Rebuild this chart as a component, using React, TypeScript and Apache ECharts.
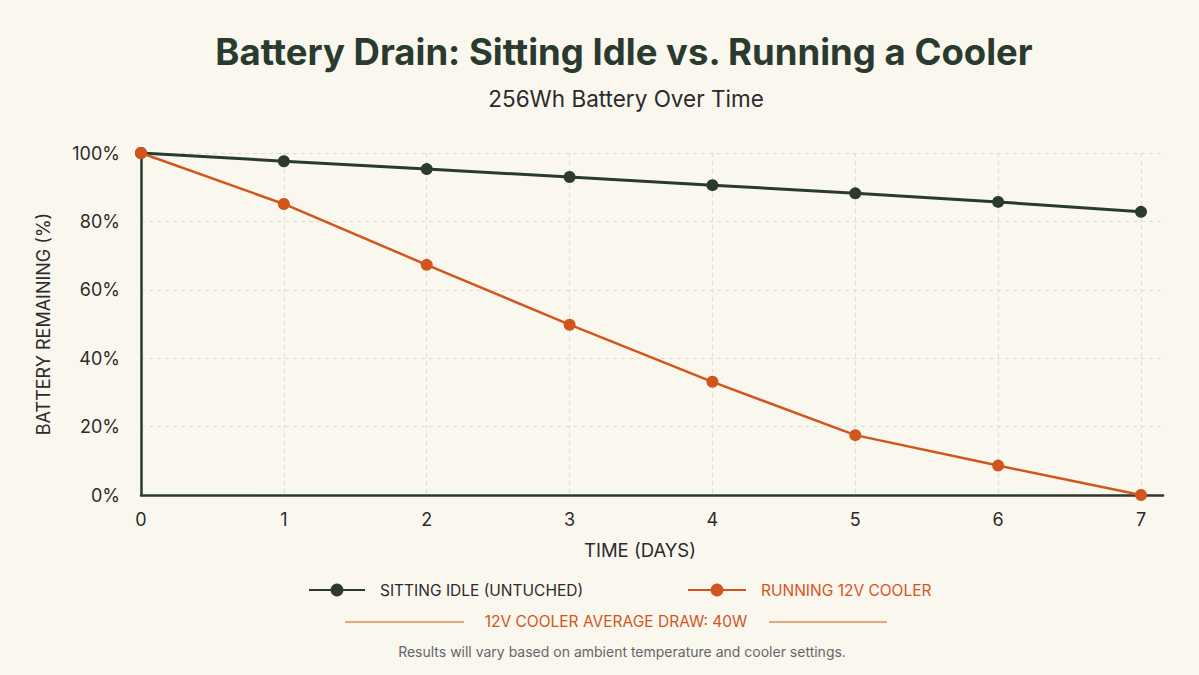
import React, { useEffect, useRef } from "react";
import * as echarts from "echarts";

const days = [0, 1, 2, 3, 4, 5, 6, 7];
const idleRemaining = [100, 97.6, 95.3, 93.0, 90.6, 88.2, 85.7, 82.8];
const coolerRemaining = [100, 85.1, 67.3, 49.8, 33.1, 17.5, 8.6, 0];
const yTicks = [0, 20, 40, 60, 80, 100];

const DARK = "#2a3a2e";
const ORANGE = "#d2561c";
const BG = "#faf7ef";
const FONT = "Inter, 'Noto Sans', sans-serif";

export default function App() {
  const ref = useRef<HTMLDivElement>(null);

  useEffect(() => {
    if (!ref.current) return;
    const chart = echarts.init(ref.current, null, { renderer: "svg" });

    const idleData = days.map((d, i) => [d, idleRemaining[i]]);
    const coolerData = days.map((d, i) => [d, coolerRemaining[i]]);

    chart.setOption({
      animation: false,
      backgroundColor: BG,
      textStyle: { fontFamily: FONT },
      grid: { left: 141, right: 36, top: 153, bottom: 180, containLabel: false },
      xAxis: {
        type: "value",
        min: 0,
        max: 7.154,
        interval: 1,
        axisLine: { show: true, lineStyle: { color: DARK, width: 2.5 } },
        axisTick: { show: false },
        axisLabel: {
          margin: 15,
          fontSize: 18,
          color: "#2b2b2b",
          fontFamily: FONT,
          formatter: (v: number) => (Number.isInteger(v) ? String(v) : ""),
        },
        splitLine: {
          show: true,
          showMinLine: false,
          showMaxLine: false,
          lineStyle: { color: "#dedbd3", type: [4, 4], width: 1 },
        },
      },
      yAxis: {
        type: "value",
        min: yTicks[0],
        max: yTicks[yTicks.length - 1],
        interval: 20,
        axisLine: { show: true, lineStyle: { color: DARK, width: 2.5 } },
        axisTick: { show: false },
        axisLabel: {
          margin: 21,
          fontSize: 18,
          color: "#2b2b2b",
          fontFamily: FONT,
          formatter: (v: number) => `${v}%`,
        },
        splitLine: {
          show: true,
          showMinLine: false,
          lineStyle: { color: "#dedbd3", type: [4, 4], width: 1 },
        },
        name: "BATTERY REMAINING (%)",
        nameLocation: "middle",
        nameRotate: 90,
        nameGap: 89,
        nameTextStyle: { fontSize: 18, color: "#2b2b2b", fontFamily: FONT },
      },
      legend: [
        {
          left: 303,
          top: 577,
          itemWidth: 56,
          itemHeight: 16,
          data: [{ name: "SITTING IDLE (UNTUCHED)", textStyle: { color: "#2b2b2b" } }],
          textStyle: { fontSize: 15.5, fontFamily: FONT, padding: [0, 0, 0, 10] },
        },
        {
          left: 682,
          top: 577,
          itemWidth: 58,
          itemHeight: 16,
          data: [{ name: "RUNNING 12V COOLER", textStyle: { color: ORANGE } }],
          textStyle: { fontSize: 15.5, fontFamily: FONT, padding: [0, 0, 0, 10] },
        },
      ],
      series: [
        {
          name: "SITTING IDLE (UNTUCHED)",
          type: "line",
          data: idleData,
          color: DARK,
          lineStyle: { color: DARK, width: 3 },
          itemStyle: { color: DARK },
          symbol: "circle",
          symbolSize: 12,
          z: 3,
        },
        {
          name: "RUNNING 12V COOLER",
          type: "line",
          data: coolerData,
          color: ORANGE,
          lineStyle: { color: ORANGE, width: 2.5 },
          itemStyle: { color: ORANGE },
          symbol: "circle",
          symbolSize: 12,
          z: 4,
        },
      ],
      graphic: [
        {
          type: "text",
          x: 624,
          y: 52,
          style: {
            text: "Battery Drain: Sitting Idle vs. Running a Cooler",
            fill: DARK,
            font: `bold 36.5px ${FONT}`,
            textAlign: "center",
            textVerticalAlign: "middle",
          },
        },
        {
          type: "text",
          x: 626,
          y: 98,
          style: {
            text: "256Wh Battery Over Time",
            fill: "#2b2b2b",
            font: `22.5px ${FONT}`,
            textAlign: "center",
            textVerticalAlign: "middle",
          },
        },
        {
          type: "text",
          x: 640,
          y: 550,
          style: {
            text: "TIME (DAYS)",
            fill: "#2b2b2b",
            font: `18.5px ${FONT}`,
            textAlign: "center",
            textVerticalAlign: "middle",
          },
        },
        {
          type: "line",
          shape: { x1: 345, y1: 622, x2: 464, y2: 622 },
          style: { stroke: ORANGE, lineWidth: 1 },
        },
        {
          type: "line",
          shape: { x1: 769, y1: 622, x2: 887, y2: 622 },
          style: { stroke: ORANGE, lineWidth: 1 },
        },
        {
          type: "text",
          x: 616,
          y: 621,
          style: {
            text: "12V COOLER AVERAGE DRAW: 40W",
            fill: ORANGE,
            font: `15.5px ${FONT}`,
            textAlign: "center",
            textVerticalAlign: "middle",
          },
        },
        {
          type: "text",
          x: 622,
          y: 651,
          style: {
            text: "Results will vary based on ambient temperature and cooler settings.",
            fill: "#666666",
            font: `14px ${FONT}`,
            textAlign: "center",
            textVerticalAlign: "middle",
          },
        },
      ],
    });

    return () => chart.dispose();
  }, []);

  return (
    <div
      ref={ref}
      style={{ width: 1199, height: 675, position: "absolute", left: 0, top: 0, background: BG }}
    />
  );
}
